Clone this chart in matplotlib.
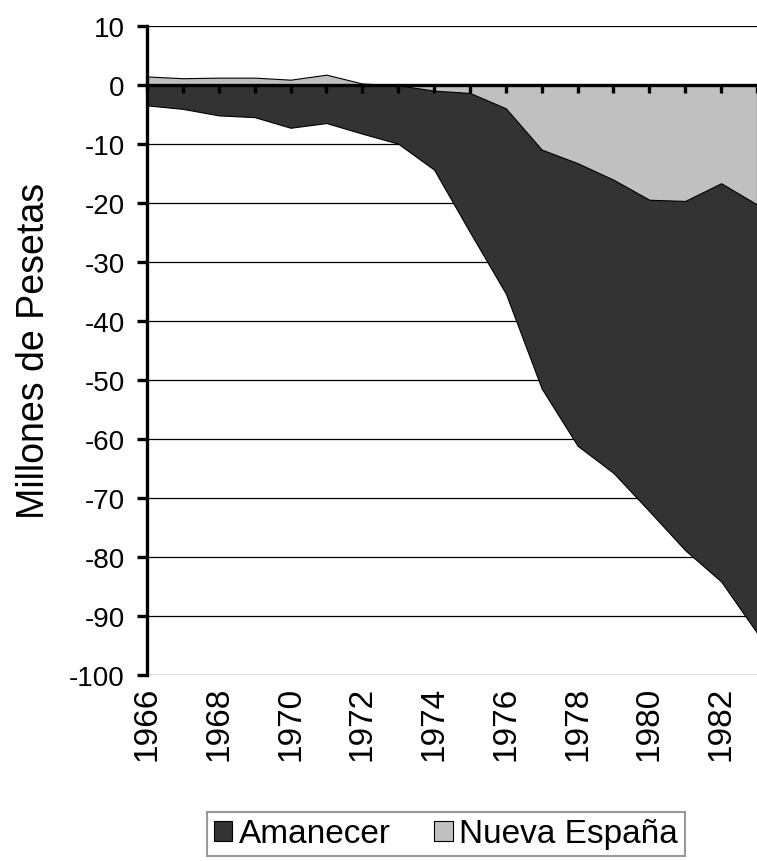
import matplotlib
matplotlib.use("Agg")
import matplotlib.pyplot as plt
from matplotlib.patches import Patch

plt.rcParams['font.family'] = ['Liberation Sans', 'DejaVu Sans']

years = [1966, 1967, 1968, 1969, 1970, 1971, 1972, 1973, 1974, 1975,
         1976, 1977, 1978, 1979, 1980, 1981, 1982, 1983]
amanecer = [-3.5, -4.1, -5.2, -5.5, -7.3, -6.5, -8.3, -10.0, -14.4, -25.0,
            -35.4, -51.5, -61.2, -65.8, -72.3, -78.9, -84.2, -92.9]
nueva_espana = [1.4, 1.1, 1.2, 1.2, 0.85, 1.7, 0.2, -0.1, -1.0, -1.4,
                -4.0, -11.0, -13.3, -16.1, -19.5, -19.7, -16.7, -20.3]
series_names = ["Amanecer", "Nueva España"]
colors = ["#333333", "#C0C0C0"]
year_labels = [1966, 1968, 1970, 1972, 1974, 1976, 1978, 1980, 1982]
y_ticks = list(range(-100, 11, 10))

fig = plt.figure(figsize=(7.57, 8.62), dpi=100)
ax = fig.add_axes([147/757, 1 - 675.7/862, 1 - 147/757, (675.7 - 26.7)/862])

# gridlines behind the areas
ax.hlines(y_ticks, 1966, 1990, colors='black', linewidth=0.9, zorder=0.5)

ax.fill_between(years, 0, amanecer, facecolor=colors[0], edgecolor='black',
                linewidth=0.8, zorder=1)
ax.fill_between(years, 0, nueva_espana, facecolor=colors[1], edgecolor='black',
                linewidth=0.8, zorder=1.5)

ax.set_xlim(1966, 1982.83)
ax.set_ylim(-100, 10)
ax.set_yticks(y_ticks)
ax.set_yticklabels([str(v) for v in y_ticks], fontsize=20)
ax.set_axisbelow(False)

for s in ['top', 'right']:
    ax.spines[s].set_visible(False)
ax.spines['left'].set_linewidth(2.4)
ax.spines['bottom'].set_position(('data', 0))
ax.spines['bottom'].set_linewidth(2.4)
ax.set_xticks(years)
ax.tick_params(axis='x', direction='out', length=6, width=2.4, labelbottom=False)
ax.tick_params(axis='y', direction='out', length=7, width=2.4, pad=9)

sec = ax.secondary_xaxis('bottom')
sec.set_xticks(year_labels)
sec.set_xticklabels([str(y) for y in year_labels], rotation=90, fontsize=24)
sec.tick_params(length=0, pad=8)
sec.spines['bottom'].set_visible(False)

ax.set_ylabel("Millones de Pesetas", fontsize=27, labelpad=12)

handles = [Patch(facecolor=c, edgecolor='black', linewidth=0.8) for c in colors]
leg = fig.legend(handles, series_names, loc='center', bbox_to_anchor=(446/757, 1 - 835/862),
                 ncol=2, fontsize=24, frameon=True, fancybox=False,
                 handlelength=0.55, handleheight=0.55, handletextpad=0.2,
                 columnspacing=1.3, borderpad=0.2, borderaxespad=0)
leg.get_frame().set_edgecolor('#808080')
leg.get_frame().set_linewidth(1.5)

fig.savefig("out.png", dpi=100)
